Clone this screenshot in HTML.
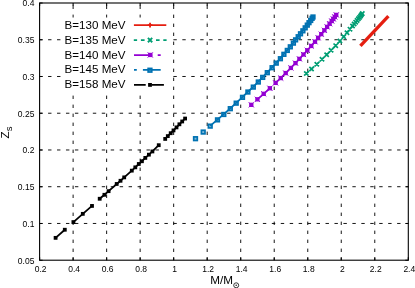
<!DOCTYPE html>
<html><head><meta charset="utf-8"><title>Zs vs M</title>
<style>html,body{margin:0;padding:0;background:#fff;width:415px;height:288px;overflow:hidden;font-family:"Liberation Sans",sans-serif}</style>
</head><body>
<svg width="415" height="288" viewBox="0 0 415 288" style="position:absolute;left:0;top:0;will-change:transform;opacity:0.9999">
<rect width="415" height="288" fill="#fff"/>
<g stroke="#000" stroke-width="0.92" fill="none">
<line x1="39.60" y1="223.46" x2="408.30" y2="223.46" stroke-dasharray="3.400 5.550" stroke-dashoffset="0.47"/>
<line x1="39.60" y1="186.71" x2="408.30" y2="186.71" stroke-dasharray="3.400 5.550" stroke-dashoffset="0.47"/>
<line x1="39.60" y1="149.97" x2="408.30" y2="149.97" stroke-dasharray="3.400 5.550" stroke-dashoffset="0.47"/>
<line x1="39.60" y1="113.23" x2="408.30" y2="113.23" stroke-dasharray="3.400 5.550" stroke-dashoffset="0.47"/>
<line x1="39.60" y1="76.49" x2="408.30" y2="76.49" stroke-dasharray="3.400 5.550" stroke-dashoffset="0.47"/>
<line x1="39.60" y1="39.74" x2="408.30" y2="39.74" stroke-dasharray="3.400 5.550" stroke-dashoffset="0.47"/>
<line x1="73.12" y1="260.20" x2="73.12" y2="3.00" stroke-dasharray="3.400 5.600" stroke-dashoffset="0.8"/>
<line x1="106.64" y1="260.20" x2="106.64" y2="3.00" stroke-dasharray="3.400 5.600" stroke-dashoffset="0.8"/>
<line x1="140.15" y1="260.20" x2="140.15" y2="3.00" stroke-dasharray="3.400 5.600" stroke-dashoffset="0.8"/>
<line x1="173.67" y1="260.20" x2="173.67" y2="3.00" stroke-dasharray="3.400 5.600" stroke-dashoffset="0.8"/>
<line x1="207.19" y1="260.20" x2="207.19" y2="3.00" stroke-dasharray="3.400 5.600" stroke-dashoffset="0.8"/>
<line x1="240.71" y1="260.20" x2="240.71" y2="3.00" stroke-dasharray="3.400 5.600" stroke-dashoffset="0.8"/>
<line x1="274.23" y1="260.20" x2="274.23" y2="3.00" stroke-dasharray="3.400 5.600" stroke-dashoffset="0.8"/>
<line x1="307.75" y1="260.20" x2="307.75" y2="3.00" stroke-dasharray="3.400 5.600" stroke-dashoffset="0.8"/>
<line x1="341.26" y1="260.20" x2="341.26" y2="3.00" stroke-dasharray="3.400 5.600" stroke-dashoffset="0.8"/>
<line x1="374.78" y1="260.20" x2="374.78" y2="3.00" stroke-dasharray="3.400 5.600" stroke-dashoffset="0.8"/>
</g>
<rect x="62" y="17.5" width="109.5" height="77" fill="#fff"/>
<g stroke="#000" stroke-width="1.1" fill="none">
<rect x="39.60" y="3.00" width="368.70" height="257.20"/>
<path d="M39.60 260.20v-3 M39.60 3.00v3"/>
<path d="M73.12 260.20v-3 M73.12 3.00v3"/>
<path d="M106.64 260.20v-3 M106.64 3.00v3"/>
<path d="M140.15 260.20v-3 M140.15 3.00v3"/>
<path d="M173.67 260.20v-3 M173.67 3.00v3"/>
<path d="M207.19 260.20v-3 M207.19 3.00v3"/>
<path d="M240.71 260.20v-3 M240.71 3.00v3"/>
<path d="M274.23 260.20v-3 M274.23 3.00v3"/>
<path d="M307.75 260.20v-3 M307.75 3.00v3"/>
<path d="M341.26 260.20v-3 M341.26 3.00v3"/>
<path d="M374.78 260.20v-3 M374.78 3.00v3"/>
<path d="M408.30 260.20v-3 M408.30 3.00v3"/>
<path d="M39.60 260.20h3 M408.30 260.20h-3"/>
<path d="M39.60 223.46h3 M408.30 223.46h-3"/>
<path d="M39.60 186.71h3 M408.30 186.71h-3"/>
<path d="M39.60 149.97h3 M408.30 149.97h-3"/>
<path d="M39.60 113.23h3 M408.30 113.23h-3"/>
<path d="M39.60 76.49h3 M408.30 76.49h-3"/>
<path d="M39.60 39.74h3 M408.30 39.74h-3"/>
<path d="M39.60 3.00h3 M408.30 3.00h-3"/>
</g>
<polyline points="55.60,237.86 64.80,229.74" fill="none" stroke="#000" stroke-width="1.80"/>
<polyline points="73.40,222.08 82.80,213.85 92.00,205.93" fill="none" stroke="#000" stroke-width="1.80"/>
<polyline points="99.70,198.76 104.40,194.80 108.60,191.16 116.70,183.97 120.50,180.78 124.20,177.38 131.80,170.64 135.30,167.34 138.80,163.98 141.90,161.25 145.30,157.91 148.90,154.67 152.40,151.45 158.75,145.19" fill="none" stroke="#000" stroke-width="1.80"/>
<polyline points="165.20,138.92 167.80,136.12 170.70,133.21 173.50,130.39 176.50,127.40 179.40,124.29 182.20,121.48 185.10,118.54" fill="none" stroke="#000" stroke-width="1.80"/>
<rect x="53.70" y="235.96" width="3.80" height="3.80" fill="#000"/>
<rect x="62.90" y="227.84" width="3.80" height="3.80" fill="#000"/>
<rect x="71.50" y="220.18" width="3.80" height="3.80" fill="#000"/>
<rect x="80.90" y="211.95" width="3.80" height="3.80" fill="#000"/>
<rect x="90.10" y="204.03" width="3.80" height="3.80" fill="#000"/>
<rect x="97.80" y="196.86" width="3.80" height="3.80" fill="#000"/>
<rect x="102.50" y="192.90" width="3.80" height="3.80" fill="#000"/>
<rect x="106.70" y="189.26" width="3.80" height="3.80" fill="#000"/>
<rect x="114.80" y="182.07" width="3.80" height="3.80" fill="#000"/>
<rect x="118.60" y="178.88" width="3.80" height="3.80" fill="#000"/>
<rect x="122.30" y="175.48" width="3.80" height="3.80" fill="#000"/>
<rect x="129.90" y="168.74" width="3.80" height="3.80" fill="#000"/>
<rect x="133.40" y="165.44" width="3.80" height="3.80" fill="#000"/>
<rect x="136.90" y="162.08" width="3.80" height="3.80" fill="#000"/>
<rect x="140.00" y="159.35" width="3.80" height="3.80" fill="#000"/>
<rect x="143.40" y="156.01" width="3.80" height="3.80" fill="#000"/>
<rect x="147.00" y="152.77" width="3.80" height="3.80" fill="#000"/>
<rect x="150.50" y="149.55" width="3.80" height="3.80" fill="#000"/>
<rect x="156.85" y="143.29" width="3.80" height="3.80" fill="#000"/>
<rect x="163.30" y="137.02" width="3.80" height="3.80" fill="#000"/>
<rect x="165.90" y="134.22" width="3.80" height="3.80" fill="#000"/>
<rect x="168.80" y="131.31" width="3.80" height="3.80" fill="#000"/>
<rect x="171.60" y="128.49" width="3.80" height="3.80" fill="#000"/>
<rect x="174.60" y="125.50" width="3.80" height="3.80" fill="#000"/>
<rect x="177.50" y="122.39" width="3.80" height="3.80" fill="#000"/>
<rect x="180.30" y="119.58" width="3.80" height="3.80" fill="#000"/>
<rect x="183.20" y="116.64" width="3.80" height="3.80" fill="#000"/>
<polyline points="210.20,125.82 217.50,119.57 223.80,114.17 230.30,108.38 236.20,102.86 242.50,97.04 247.90,91.73 253.30,86.81 258.30,81.72 262.70,77.08 267.30,72.38 272.10,67.41 276.25,62.83 280.40,58.42 283.90,54.03 287.30,50.13 290.30,46.53 293.40,42.83 295.60,39.56 298.20,36.44 300.50,33.49 302.90,30.52 305.20,27.55 307.30,24.83 309.00,22.37 310.70,20.15 312.10,18.03 313.00,16.70" fill="none" stroke="#0072b2" stroke-width="1.80"/>
<rect x="193.70" y="136.89" width="3.60" height="3.60" fill="#0072b2" fill-opacity="0.5" stroke="#0072b2" stroke-width="1.70"/>
<rect x="201.40" y="130.26" width="3.60" height="3.60" fill="#0072b2" fill-opacity="0.5" stroke="#0072b2" stroke-width="1.70"/>
<rect x="208.40" y="124.32" width="3.60" height="3.60" fill="#0072b2" fill-opacity="0.5" stroke="#0072b2" stroke-width="1.70"/>
<rect x="215.70" y="118.07" width="3.60" height="3.60" fill="#0072b2" fill-opacity="0.5" stroke="#0072b2" stroke-width="1.70"/>
<rect x="222.00" y="112.67" width="3.60" height="3.60" fill="#0072b2" fill-opacity="0.5" stroke="#0072b2" stroke-width="1.70"/>
<rect x="228.50" y="106.88" width="3.60" height="3.60" fill="#0072b2" fill-opacity="0.5" stroke="#0072b2" stroke-width="1.70"/>
<rect x="234.40" y="101.36" width="3.60" height="3.60" fill="#0072b2" fill-opacity="0.5" stroke="#0072b2" stroke-width="1.70"/>
<rect x="240.70" y="95.54" width="3.60" height="3.60" fill="#0072b2" fill-opacity="0.5" stroke="#0072b2" stroke-width="1.70"/>
<rect x="246.10" y="90.23" width="3.60" height="3.60" fill="#0072b2" fill-opacity="0.5" stroke="#0072b2" stroke-width="1.70"/>
<rect x="251.50" y="85.31" width="3.60" height="3.60" fill="#0072b2" fill-opacity="0.5" stroke="#0072b2" stroke-width="1.70"/>
<rect x="256.50" y="80.22" width="3.60" height="3.60" fill="#0072b2" fill-opacity="0.5" stroke="#0072b2" stroke-width="1.70"/>
<rect x="260.90" y="75.58" width="3.60" height="3.60" fill="#0072b2" fill-opacity="0.5" stroke="#0072b2" stroke-width="1.70"/>
<rect x="265.50" y="70.88" width="3.60" height="3.60" fill="#0072b2" fill-opacity="0.5" stroke="#0072b2" stroke-width="1.70"/>
<rect x="270.30" y="65.91" width="3.60" height="3.60" fill="#0072b2" fill-opacity="0.5" stroke="#0072b2" stroke-width="1.70"/>
<rect x="274.45" y="61.33" width="3.60" height="3.60" fill="#0072b2" fill-opacity="0.5" stroke="#0072b2" stroke-width="1.70"/>
<rect x="278.60" y="56.92" width="3.60" height="3.60" fill="#0072b2" fill-opacity="0.5" stroke="#0072b2" stroke-width="1.70"/>
<rect x="282.10" y="52.53" width="3.60" height="3.60" fill="#0072b2" fill-opacity="0.5" stroke="#0072b2" stroke-width="1.70"/>
<rect x="285.50" y="48.63" width="3.60" height="3.60" fill="#0072b2" fill-opacity="0.5" stroke="#0072b2" stroke-width="1.70"/>
<rect x="288.50" y="45.03" width="3.60" height="3.60" fill="#0072b2" fill-opacity="0.5" stroke="#0072b2" stroke-width="1.70"/>
<rect x="291.60" y="41.33" width="3.60" height="3.60" fill="#0072b2" fill-opacity="0.5" stroke="#0072b2" stroke-width="1.70"/>
<rect x="293.80" y="38.06" width="3.60" height="3.60" fill="#0072b2" fill-opacity="0.5" stroke="#0072b2" stroke-width="1.70"/>
<rect x="296.40" y="34.94" width="3.60" height="3.60" fill="#0072b2" fill-opacity="0.5" stroke="#0072b2" stroke-width="1.70"/>
<rect x="298.70" y="31.99" width="3.60" height="3.60" fill="#0072b2" fill-opacity="0.5" stroke="#0072b2" stroke-width="1.70"/>
<rect x="301.10" y="29.02" width="3.60" height="3.60" fill="#0072b2" fill-opacity="0.5" stroke="#0072b2" stroke-width="1.70"/>
<rect x="303.40" y="26.05" width="3.60" height="3.60" fill="#0072b2" fill-opacity="0.5" stroke="#0072b2" stroke-width="1.70"/>
<rect x="305.50" y="23.33" width="3.60" height="3.60" fill="#0072b2" fill-opacity="0.5" stroke="#0072b2" stroke-width="1.70"/>
<rect x="307.20" y="20.87" width="3.60" height="3.60" fill="#0072b2" fill-opacity="0.5" stroke="#0072b2" stroke-width="1.70"/>
<rect x="308.90" y="18.65" width="3.60" height="3.60" fill="#0072b2" fill-opacity="0.5" stroke="#0072b2" stroke-width="1.70"/>
<rect x="310.30" y="16.53" width="3.60" height="3.60" fill="#0072b2" fill-opacity="0.5" stroke="#0072b2" stroke-width="1.70"/>
<rect x="311.20" y="15.20" width="3.60" height="3.60" fill="#0072b2" fill-opacity="0.5" stroke="#0072b2" stroke-width="1.70"/>
<polyline points="257.40,99.33 263.70,93.82 269.90,88.25" fill="none" stroke="#9400d3" stroke-width="1.80"/>
<polyline points="275.60,82.88 280.75,78.07 285.70,73.05 290.90,67.93 295.50,63.11 299.40,58.88 303.50,54.49 307.30,50.29 311.25,45.96 315.00,41.74 318.10,37.81 321.25,34.16 324.40,30.33 327.10,26.89 329.60,23.73 331.70,21.00 333.30,18.95 334.80,16.91 336.25,14.90" fill="none" stroke="#9400d3" stroke-width="1.80"/>
<rect x="249.15" y="102.69" width="4.30" height="4.30" fill="#9400d3"/><path d="M248.70 102.24L253.90 107.44M248.70 107.44L253.90 102.24" stroke="#9400d3" stroke-width="1.0" fill="none"/>
<rect x="255.25" y="97.18" width="4.30" height="4.30" fill="#9400d3"/><path d="M254.80 96.73L260.00 101.93M254.80 101.93L260.00 96.73" stroke="#9400d3" stroke-width="1.0" fill="none"/>
<rect x="261.55" y="91.67" width="4.30" height="4.30" fill="#9400d3"/><path d="M261.10 91.22L266.30 96.42M261.10 96.42L266.30 91.22" stroke="#9400d3" stroke-width="1.0" fill="none"/>
<rect x="267.75" y="86.10" width="4.30" height="4.30" fill="#9400d3"/><path d="M267.30 85.65L272.50 90.85M267.30 90.85L272.50 85.65" stroke="#9400d3" stroke-width="1.0" fill="none"/>
<rect x="273.45" y="80.73" width="4.30" height="4.30" fill="#9400d3"/><path d="M273.00 80.28L278.20 85.48M273.00 85.48L278.20 80.28" stroke="#9400d3" stroke-width="1.0" fill="none"/>
<rect x="278.60" y="75.92" width="4.30" height="4.30" fill="#9400d3"/><path d="M278.15 75.47L283.35 80.67M278.15 80.67L283.35 75.47" stroke="#9400d3" stroke-width="1.0" fill="none"/>
<rect x="283.55" y="70.90" width="4.30" height="4.30" fill="#9400d3"/><path d="M283.10 70.45L288.30 75.65M283.10 75.65L288.30 70.45" stroke="#9400d3" stroke-width="1.0" fill="none"/>
<rect x="288.75" y="65.78" width="4.30" height="4.30" fill="#9400d3"/><path d="M288.30 65.33L293.50 70.53M288.30 70.53L293.50 65.33" stroke="#9400d3" stroke-width="1.0" fill="none"/>
<rect x="293.35" y="60.96" width="4.30" height="4.30" fill="#9400d3"/><path d="M292.90 60.51L298.10 65.71M292.90 65.71L298.10 60.51" stroke="#9400d3" stroke-width="1.0" fill="none"/>
<rect x="297.25" y="56.73" width="4.30" height="4.30" fill="#9400d3"/><path d="M296.80 56.28L302.00 61.48M296.80 61.48L302.00 56.28" stroke="#9400d3" stroke-width="1.0" fill="none"/>
<rect x="301.35" y="52.34" width="4.30" height="4.30" fill="#9400d3"/><path d="M300.90 51.89L306.10 57.09M300.90 57.09L306.10 51.89" stroke="#9400d3" stroke-width="1.0" fill="none"/>
<rect x="305.15" y="48.14" width="4.30" height="4.30" fill="#9400d3"/><path d="M304.70 47.69L309.90 52.89M304.70 52.89L309.90 47.69" stroke="#9400d3" stroke-width="1.0" fill="none"/>
<rect x="309.10" y="43.81" width="4.30" height="4.30" fill="#9400d3"/><path d="M308.65 43.36L313.85 48.56M308.65 48.56L313.85 43.36" stroke="#9400d3" stroke-width="1.0" fill="none"/>
<rect x="312.85" y="39.59" width="4.30" height="4.30" fill="#9400d3"/><path d="M312.40 39.14L317.60 44.34M312.40 44.34L317.60 39.14" stroke="#9400d3" stroke-width="1.0" fill="none"/>
<rect x="315.95" y="35.66" width="4.30" height="4.30" fill="#9400d3"/><path d="M315.50 35.21L320.70 40.41M315.50 40.41L320.70 35.21" stroke="#9400d3" stroke-width="1.0" fill="none"/>
<rect x="319.10" y="32.01" width="4.30" height="4.30" fill="#9400d3"/><path d="M318.65 31.56L323.85 36.76M318.65 36.76L323.85 31.56" stroke="#9400d3" stroke-width="1.0" fill="none"/>
<rect x="322.25" y="28.18" width="4.30" height="4.30" fill="#9400d3"/><path d="M321.80 27.73L327.00 32.93M321.80 32.93L327.00 27.73" stroke="#9400d3" stroke-width="1.0" fill="none"/>
<rect x="324.95" y="24.74" width="4.30" height="4.30" fill="#9400d3"/><path d="M324.50 24.29L329.70 29.49M324.50 29.49L329.70 24.29" stroke="#9400d3" stroke-width="1.0" fill="none"/>
<rect x="327.45" y="21.58" width="4.30" height="4.30" fill="#9400d3"/><path d="M327.00 21.13L332.20 26.33M327.00 26.33L332.20 21.13" stroke="#9400d3" stroke-width="1.0" fill="none"/>
<rect x="329.55" y="18.85" width="4.30" height="4.30" fill="#9400d3"/><path d="M329.10 18.40L334.30 23.60M329.10 23.60L334.30 18.40" stroke="#9400d3" stroke-width="1.0" fill="none"/>
<rect x="331.15" y="16.80" width="4.30" height="4.30" fill="#9400d3"/><path d="M330.70 16.35L335.90 21.55M330.70 21.55L335.90 16.35" stroke="#9400d3" stroke-width="1.0" fill="none"/>
<rect x="332.65" y="14.76" width="4.30" height="4.30" fill="#9400d3"/><path d="M332.20 14.31L337.40 19.51M332.20 19.51L337.40 14.31" stroke="#9400d3" stroke-width="1.0" fill="none"/>
<rect x="334.10" y="12.75" width="4.30" height="4.30" fill="#9400d3"/><path d="M333.65 12.30L338.85 17.50M333.65 17.50L338.85 12.30" stroke="#9400d3" stroke-width="1.0" fill="none"/>
<polyline points="306.30,73.55 311.50,68.94 316.80,64.20 322.00,59.31 326.65,54.70 331.10,50.20 335.70,45.64 339.90,41.05 343.70,36.77 347.00,32.81 350.00,29.17 352.50,26.05 354.15,24.03 355.70,22.15 357.10,20.41 358.30,18.84 359.50,17.40 360.60,15.98 361.40,14.80 362.30,13.60" fill="none" stroke="#009e73" stroke-width="1.5" stroke-dasharray="3.6 3.6"/>
<path d="M304.15 71.40L308.45 75.70M304.15 75.70L308.45 71.40M309.35 66.79L313.65 71.09M309.35 71.09L313.65 66.79M314.65 62.05L318.95 66.35M314.65 66.35L318.95 62.05M319.85 57.16L324.15 61.46M319.85 61.46L324.15 57.16M324.50 52.55L328.80 56.85M324.50 56.85L328.80 52.55M328.95 48.05L333.25 52.35M328.95 52.35L333.25 48.05M333.55 43.49L337.85 47.79M333.55 47.79L337.85 43.49M337.75 38.90L342.05 43.20M337.75 43.20L342.05 38.90M341.55 34.62L345.85 38.92M341.55 38.92L345.85 34.62M344.85 30.66L349.15 34.96M344.85 34.96L349.15 30.66M347.85 27.02L352.15 31.32M347.85 31.32L352.15 27.02M350.35 23.90L354.65 28.20M350.35 28.20L354.65 23.90M352.00 21.88L356.30 26.18M352.00 26.18L356.30 21.88M353.55 20.00L357.85 24.30M353.55 24.30L357.85 20.00M354.95 18.26L359.25 22.56M354.95 22.56L359.25 18.26M356.15 16.69L360.45 20.99M356.15 20.99L360.45 16.69M357.35 15.25L361.65 19.55M357.35 19.55L361.65 15.25M358.45 13.83L362.75 18.13M358.45 18.13L362.75 13.83M359.25 12.65L363.55 16.95M359.25 16.95L363.55 12.65M360.15 11.45L364.45 15.75M360.15 15.75L364.45 11.45" stroke="#009e73" stroke-width="1.7" fill="none"/>
<polyline points="360.40,45.90 388.40,16.10" fill="none" stroke="#e51e10" stroke-width="3.30"/>
<path d="M133.9 25.07H166.3" stroke="#e51e10" stroke-width="1.80"/>
<path d="M147.70 25.07H152.40M150.05 22.72V27.42" stroke="#e51e10" stroke-width="1.8" fill="none"/>
<path d="M133.8 40.07h3.3M140.9 40.07h3.7M156.0 40.07h3.6M163.3 40.07h3.3" stroke="#009e73" stroke-width="1.80"/>
<path d="M147.90 37.92L152.20 42.22M147.90 42.22L152.20 37.92" stroke="#009e73" stroke-width="1.9" fill="none"/>
<path d="M134 55.05H152.3M157.7 55.05H160.7" stroke="#9400d3" stroke-width="1.80"/>
<rect x="148.10" y="52.80" width="4.30" height="4.30" fill="#9400d3"/><path d="M147.65 52.35L152.85 57.55M147.65 57.55L152.85 52.35" stroke="#9400d3" stroke-width="1.0" fill="none"/>
<path d="M134 69.97H136.8M142.9 69.97H160.7" stroke="#0072b2" stroke-width="1.80"/>
<rect x="148.15" y="68.42" width="3.60" height="3.60" fill="#0072b2" fill-opacity="0.5" stroke="#0072b2" stroke-width="1.70"/>
<path d="M134 84.90H145.7M151.5 84.90H163.9" stroke="#000" stroke-width="1.80"/>
<rect x="148.10" y="83.00" width="3.80" height="3.80" fill="#000"/>
<text x="64.6" y="28.9" font-family="Liberation Sans, sans-serif" font-size="11.6" fill="#000">B=130 MeV</text>
<text x="64.6" y="43.7" font-family="Liberation Sans, sans-serif" font-size="11.6" fill="#000">B=135 MeV</text>
<text x="64.6" y="58.6" font-family="Liberation Sans, sans-serif" font-size="11.6" fill="#000">B=140 MeV</text>
<text x="64.6" y="73.4" font-family="Liberation Sans, sans-serif" font-size="11.6" fill="#000">B=145 MeV</text>
<text x="64.6" y="88.3" font-family="Liberation Sans, sans-serif" font-size="11.6" fill="#000">B=158 MeV</text>
<text x="40.60" y="271.7" font-family="Liberation Sans, sans-serif" font-size="8.5" text-anchor="middle" fill="#000">0.2</text>
<text x="74.12" y="271.7" font-family="Liberation Sans, sans-serif" font-size="8.5" text-anchor="middle" fill="#000">0.4</text>
<text x="107.64" y="271.7" font-family="Liberation Sans, sans-serif" font-size="8.5" text-anchor="middle" fill="#000">0.6</text>
<text x="141.15" y="271.7" font-family="Liberation Sans, sans-serif" font-size="8.5" text-anchor="middle" fill="#000">0.8</text>
<text x="174.67" y="271.7" font-family="Liberation Sans, sans-serif" font-size="8.5" text-anchor="middle" fill="#000">1</text>
<text x="208.19" y="271.7" font-family="Liberation Sans, sans-serif" font-size="8.5" text-anchor="middle" fill="#000">1.2</text>
<text x="241.71" y="271.7" font-family="Liberation Sans, sans-serif" font-size="8.5" text-anchor="middle" fill="#000">1.4</text>
<text x="275.23" y="271.7" font-family="Liberation Sans, sans-serif" font-size="8.5" text-anchor="middle" fill="#000">1.6</text>
<text x="308.75" y="271.7" font-family="Liberation Sans, sans-serif" font-size="8.5" text-anchor="middle" fill="#000">1.8</text>
<text x="342.26" y="271.7" font-family="Liberation Sans, sans-serif" font-size="8.5" text-anchor="middle" fill="#000">2</text>
<text x="375.78" y="271.7" font-family="Liberation Sans, sans-serif" font-size="8.5" text-anchor="middle" fill="#000">2.2</text>
<text x="409.30" y="271.7" font-family="Liberation Sans, sans-serif" font-size="8.5" text-anchor="middle" fill="#000">2.4</text>
<text x="34.4" y="263.60" font-family="Liberation Sans, sans-serif" font-size="8.5" text-anchor="end" fill="#000">0.05</text>
<text x="34.4" y="226.86" font-family="Liberation Sans, sans-serif" font-size="8.5" text-anchor="end" fill="#000">0.1</text>
<text x="34.4" y="190.11" font-family="Liberation Sans, sans-serif" font-size="8.5" text-anchor="end" fill="#000">0.15</text>
<text x="34.4" y="153.37" font-family="Liberation Sans, sans-serif" font-size="8.5" text-anchor="end" fill="#000">0.2</text>
<text x="34.4" y="116.63" font-family="Liberation Sans, sans-serif" font-size="8.5" text-anchor="end" fill="#000">0.25</text>
<text x="34.4" y="79.89" font-family="Liberation Sans, sans-serif" font-size="8.5" text-anchor="end" fill="#000">0.3</text>
<text x="34.4" y="43.14" font-family="Liberation Sans, sans-serif" font-size="8.5" text-anchor="end" fill="#000">0.35</text>
<text x="34.4" y="6.40" font-family="Liberation Sans, sans-serif" font-size="8.5" text-anchor="end" fill="#000">0.4</text>
<text x="210.2" y="283.8" font-family="Liberation Sans, sans-serif" font-size="11.7" fill="#000">M/M</text>
<circle cx="236.2" cy="285.3" r="2.5" fill="none" stroke="#222" stroke-width="0.9"/><circle cx="236.2" cy="285.3" r="0.8" fill="#222"/>
<text transform="translate(9.1,138.4) rotate(-90)" font-family="Liberation Sans, sans-serif" font-size="11.7" fill="#000">Z<tspan font-size="9.6" dy="3">s</tspan></text>
</svg>
</body></html>
